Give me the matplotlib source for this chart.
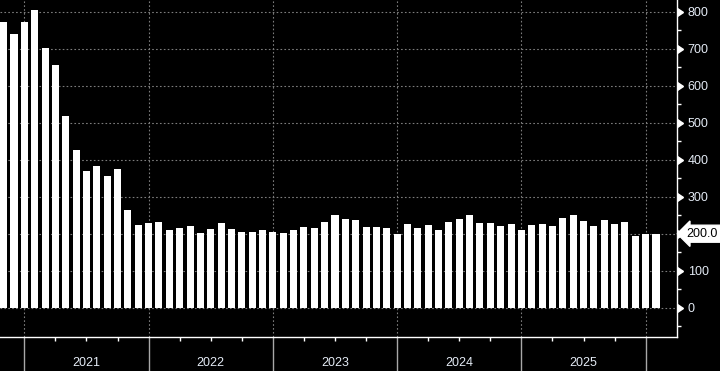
import numpy as np
import matplotlib
matplotlib.use('Agg')
import matplotlib.pyplot as plt
import matplotlib.transforms as mtransforms
from matplotlib.ticker import FixedLocator, NullFormatter, FuncFormatter

# monthly values, Nov 2020 .. Feb 2026 (month 0 = Jan 2021)
months = list(range(-2, 62))
values = [773, 739, 773, 804, 703, 657, 517, 427, 369, 382, 355, 374,
          263, 223, 228, 232, 209, 215, 220, 201, 212, 228, 212, 204,
          204, 209, 204, 202, 209, 217, 215, 231, 250, 239, 236, 217,
          217, 215, 199, 225, 215, 223, 209, 231, 239, 250, 228, 228,
          220, 225, 209, 223, 225, 220, 242, 250, 234, 220, 236, 226,
          231, 193, 200, 200]
years = ['2021', '2022', '2023', '2024', '2025']
year_starts = [0, 12, 24, 36, 48, 60]
y_ticks = [0, 100, 200, 300, 400, 500, 600, 700, 800]
last_label = '200.0'

txt_color = '#e4ebf5'
grid_color = '#7c7c7c'

fig = plt.figure(figsize=(7.2, 3.71), dpi=100, facecolor='black')
ax = fig.add_axes([0.0, 0.0903, 0.9399, 0.9097], facecolor='black')

ax.bar(months, values, width=0.68, color='white', zorder=3)

ax.set_xlim(-2.35, 63.0)
ax.set_ylim(-80.5, 831.6)

# grid
for y in y_ticks:
    ax.axhline(y, color=grid_color, lw=0.8, ls=(0, (1.5, 2)), zorder=1)
for m in year_starts:
    ax.axvline(m, color=grid_color, lw=0.8, ls=(0, (1.5, 2)), zorder=1)

for s in ['top', 'left']:
    ax.spines[s].set_visible(False)
for s in ['bottom', 'right']:
    ax.spines[s].set_color('white')
    ax.spines[s].set_linewidth(1.0)

# x axis: long year separators, short quarter ticks
ax.xaxis.set_major_locator(FixedLocator(year_starts))
ax.xaxis.set_minor_locator(FixedLocator([m for m in range(0, 63, 3) if m % 12]))
ax.xaxis.set_major_formatter(NullFormatter())
ax.tick_params(axis='x', which='major', length=24.5, width=1.0, color='#a8a8a8', direction='out')
ax.tick_params(axis='x', which='minor', length=3, width=1.0, color='white', direction='out')

trans_x = mtransforms.blended_transform_factory(ax.transData, fig.transFigure)
for i, yr in enumerate(years):
    ax.text(year_starts[i] + 6, 0.022, yr, transform=trans_x, ha='center', va='center',
            color=txt_color, fontsize=9, family='Liberation Sans')

# right y axis (the level under the last-value tag gets no label)
ax.yaxis.tick_right()
ax.yaxis.set_major_locator(FixedLocator(y_ticks))
ax.yaxis.set_major_formatter(FuncFormatter(lambda v, p: '' if v == 200 else f'{v:.0f}'))
ax.yaxis.set_minor_locator(FixedLocator([y + 50 for y in [-100] + y_ticks[:-1]]))
ax.tick_params(axis='y', which='major', length=0, pad=8, labelcolor=txt_color, labelsize=9)
ax.tick_params(axis='y', which='minor', length=3, width=1.0, color='white', direction='out')
for lab in ax.get_yticklabels():
    lab.set_family('Liberation Sans')

trans_y = mtransforms.blended_transform_factory(ax.transAxes, ax.transData)
ax.plot([1.0] * len(y_ticks), y_ticks, transform=trans_y, ls='none', marker=9,
        markersize=6, color='white', clip_on=False, zorder=5)

# last value tag
ax.annotate(last_label, xy=(1.0, values[-1]), xycoords=trans_y, xytext=(7, 0),
            textcoords='offset points', ha='left', va='center', color='black',
            fontsize=9, family='Liberation Sans', annotation_clip=False, zorder=6,
            bbox=dict(boxstyle='larrow,pad=0.2', fc='white', ec='white'))

fig.savefig('out.png', dpi=100, facecolor='black')
